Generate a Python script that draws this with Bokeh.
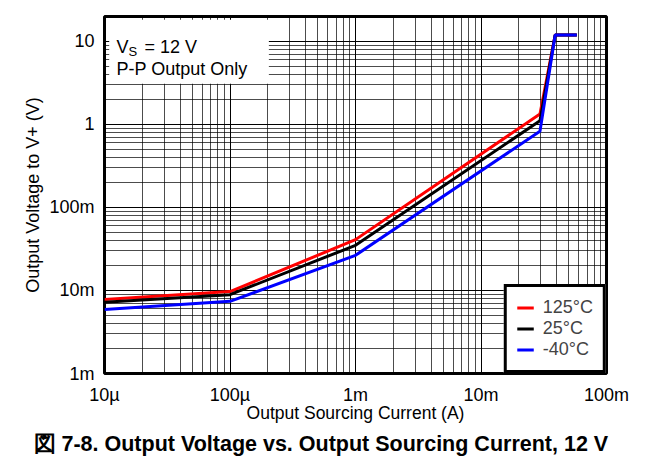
from bokeh.plotting import figure
from bokeh.models import (Legend, LegendItem, Label, BoxAnnotation, Title,
                          FixedTicker, Range1d)
from bokeh.layouts import column
from bokeh.embed import file_html
from bokeh.resources import INLINE

# ---- data ----
current = [1e-5, 1e-4, 1e-3, 0.0295, 0.039, 0.058]
v_125c = [7.8e-3, 9.7e-3, 41e-3, 1.34, 12.0, 12.0]
v_25c = [7.2e-3, 8.9e-3, 35e-3, 1.11, 12.0, 12.0]
v_m40c = [5.9e-3, 7.4e-3, 26.5e-3, 0.83, 12.0, 12.0]

series_names = ["125°C", "25°C", "-40°C"]
series_colors = ["#ff0000", "#000000", "#0000ff"]

x_ticks = [1e-5, 1e-4, 1e-3, 1e-2, 1e-1]
x_tick_labels = ["10µ", "100µ", "1m", "10m", "100m"]
y_ticks = [1e-3, 1e-2, 1e-1, 1.0, 10.0]
y_tick_labels = ["1m", "10m", "100m", "1", "10"]

caption = "図 7-8. Output Voltage vs. Output Sourcing Current, 12 V"

FONT = "Liberation Sans"

# thin page rule at the top
rule = figure(width=650, height=5, toolbar_location=None, output_backend="svg",
              x_range=Range1d(0, 1), y_range=Range1d(0, 1),
              min_border_left=0, min_border_right=0, min_border_top=3,
              min_border_bottom=0, x_axis_location=None, y_axis_location=None,
              outline_line_color=None, background_fill_color="#555555",
              background_fill_alpha=1, border_fill_color="white")
rule.grid.visible = False

p = figure(width=650, height=455, x_axis_type="log", y_axis_type="log",
           x_range=(1e-5, 0.1), y_range=(1e-3, 20),
           output_backend="svg", toolbar_location=None,
           min_border_left=104, min_border_right=44,
           min_border_top=11, min_border_bottom=80)

x_minor = [m * 10.0 ** e for e in range(-5, -1) for m in range(2, 10)]
y_minor = [m * 10.0 ** e for e in range(-3, 2) for m in range(2, 10)]
p.xaxis.ticker = FixedTicker(ticks=x_ticks, minor_ticks=x_minor)
p.yaxis.ticker = FixedTicker(ticks=y_ticks, minor_ticks=y_minor)
p.xaxis.major_label_overrides = dict(zip(x_ticks, x_tick_labels))
p.yaxis.major_label_overrides = dict(zip(y_ticks, y_tick_labels))

for ax in (p.xaxis[0], p.yaxis[0]):
    ax.axis_line_color = None
    ax.major_tick_line_color = None
    ax.minor_tick_line_color = None
    ax.major_tick_out = 0
    ax.minor_tick_out = 0
    ax.major_label_text_font = FONT
    ax.major_label_text_font_size = "18px"
    ax.major_label_text_color = "black"
    ax.axis_label_text_font = FONT
    ax.axis_label_text_font_style = "normal"
    ax.axis_label_text_color = "black"

p.xaxis.axis_label = "Output Sourcing Current (A)"
p.yaxis.axis_label = "Output Voltage to V+ (V)"
p.xaxis.axis_label_text_font_size = "17.5px"
p.yaxis.axis_label_text_font_size = "18px"
p.xaxis.major_label_standoff = 11
p.yaxis.major_label_standoff = 10
p.xaxis.axis_label_standoff = -5
p.yaxis.axis_label_standoff = 3

for g in (p.xgrid[0], p.ygrid[0]):
    g.grid_line_color = "black"
    g.grid_line_width = 1
    g.minor_grid_line_color = "black"
    g.minor_grid_line_alpha = 0.7
    g.minor_grid_line_width = 1

p.outline_line_color = "black"
p.outline_line_width = 3
p.outline_line_alpha = 1
p.background_fill_color = "white"
p.border_fill_color = "white"

# white box behind the condition text
p.add_layout(BoxAnnotation(left=1.09e-5, right=2.04e-4, bottom=3.1, top=18.3,
                           fill_color="white", fill_alpha=1, line_color=None))

renderers = []
for ys, c in zip([v_125c, v_25c, v_m40c], series_colors):
    r = p.line(current, ys, line_color=c, line_width=3)
    renderers.append(r)

legend = Legend(items=[LegendItem(label=n, renderers=[r])
                       for n, r in zip(series_names, renderers)],
                location="bottom_right", margin=0, padding=10, spacing=0,
                label_text_font=FONT, label_text_font_size="18px",
                label_height=21, glyph_height=21, glyph_width=17,
                label_standoff=9,
                border_line_color="black", border_line_width=3,
                border_line_alpha=1,
                background_fill_color="white", background_fill_alpha=1)
p.add_layout(legend)

# condition text
txt = dict(x_units="screen", y_units="screen", text_font=FONT,
           text_color="black", text_baseline="alphabetic")
p.add_layout(Label(x=12, y=327, text="V", text_font_size="18px", **txt))
p.add_layout(Label(x=24, y=322, text="S", text_font_size="13px", **txt))
p.add_layout(Label(x=40, y=327, text="= 12 V", text_font_size="18px", **txt))
p.add_layout(Label(x=12, y=305, text="P-P Output Only", text_font_size="18px", **txt))

# figure caption
cap = Title(text=caption, align="left", offset=-71, standoff=9,
            text_font=FONT, text_font_size="21.5px", text_font_style="bold",
            text_color="black")
p.add_layout(cap, "below")

page = column(rule, p)
open("out.html", "w").write(file_html(page, INLINE))
